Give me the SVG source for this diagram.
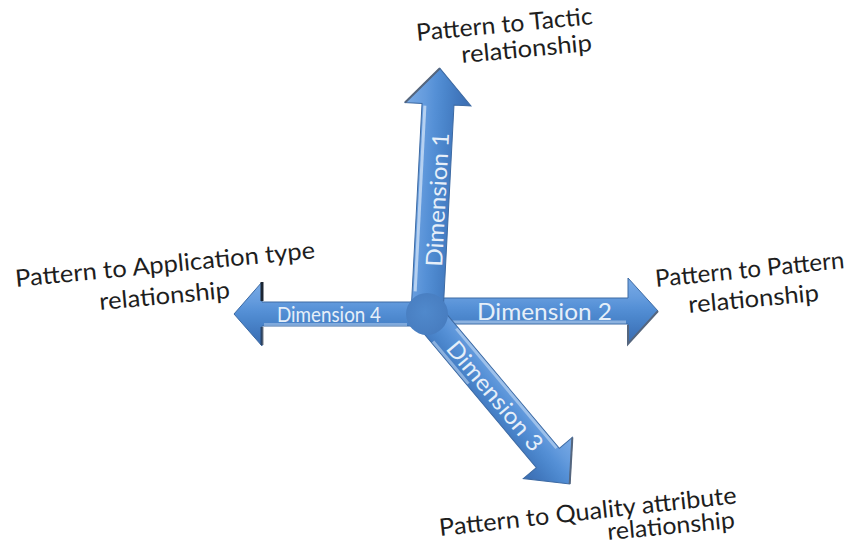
<svg xmlns="http://www.w3.org/2000/svg" width="854" height="546" viewBox="0 0 854 546">
  <defs>
    <linearGradient id="gA" x1="0" y1="0" x2="0" y2="1">
      <stop offset="0" stop-color="#7aabe6"/>
      <stop offset="0.3" stop-color="#649bdd"/>
      <stop offset="0.45" stop-color="#5590d6"/>
      <stop offset="0.6" stop-color="#4b86cc"/>
      <stop offset="0.78" stop-color="#4279bf"/>
      <stop offset="1" stop-color="#3b6cb0"/>
    </linearGradient>
    <linearGradient id="gB" x1="0" y1="1" x2="0" y2="0">
      <stop offset="0" stop-color="#7aabe6"/>
      <stop offset="0.3" stop-color="#649bdd"/>
      <stop offset="0.45" stop-color="#5590d6"/>
      <stop offset="0.6" stop-color="#4b86cc"/>
      <stop offset="0.78" stop-color="#4279bf"/>
      <stop offset="1" stop-color="#3b6cb0"/>
    </linearGradient>
    <radialGradient id="gC" cx="0.45" cy="0.45" r="0.6">
      <stop offset="0" stop-color="#5089cc"/>
      <stop offset="1" stop-color="#477cbf"/>
    </radialGradient>
  </defs>
  <style>
    .arrow { stroke: #3d6aa3; stroke-width: 1; stroke-linejoin: miter; }
    .hl { stroke: #c4daf4; stroke-width: 3; fill: none; }
    .edge { stroke: #55667e; stroke-width: 2; fill: none; }
    .dark { stroke: #1c2633; stroke-width: 3; fill: none; }
    .dim { font-family: Lato, "Open Sans", "Liberation Sans", sans-serif; fill: #e6eff9; }
    .lbl { font-family: Lato, "Open Sans", "Liberation Sans", sans-serif; font-size: 24px; fill: #1e1e1e; }
  </style>
  <rect width="854" height="546" fill="#ffffff"/>

  <g id="connectors">
    <g id="dim4-arrow" transform="translate(427,314) rotate(180)">
      <path class="arrow" fill="url(#gB)" d="M0,-12 L165,-12 L165,-32 L193,0 L165,32 L165,12 L0,12 Z"/>
      <line class="hl" x1="20" y1="-10.5" x2="163" y2="-10.5" stroke-opacity="0.45"/>
      <path class="dark" d="M165,13 L165,32"/>
      <path class="dark" d="M165,-13 L165,-31" stroke-opacity="0.6"/>
    </g>
    <g id="dim2-arrow" transform="translate(427,311)">
      <path class="arrow" fill="url(#gA)" d="M0,-13 L201,-13 L201,-33 L231,0 L201,33 L201,13 L0,13 Z"/>
      <line class="hl" x1="25" y1="11" x2="199" y2="11" stroke-opacity="0.55"/>
      <path class="edge" d="M231,0 L201,33 L201,14"/>
    </g>
    <g id="dim3-arrow" transform="translate(427,314) rotate(50)">
      <path class="arrow" fill="url(#gA)" d="M0,-15 L188,-15 L188,-32 L222,0 L188,32 L188,15 L0,15 Z"/>
      <line class="hl" x1="30" y1="-13" x2="186" y2="-13" stroke-opacity="0.6"/>
      <line class="hl" x1="25" y1="13" x2="80" y2="13" stroke-opacity="0.55"/>
      <path class="edge" d="M188,-32 L222,0"/>
    </g>
    <g id="dim1-arrow" transform="translate(427,314) rotate(-87)">
      <path class="arrow" fill="url(#gA)" d="M0,-16 L210,-16 L210,-33 L246,0 L210,33 L210,16 L0,16 Z"/>
      <line class="hl" x1="22" y1="-13" x2="208" y2="-13" stroke-opacity="0.85"/>
      <path class="edge" d="M210,-33 L246,0"/>
    </g>
  </g>

  <g id="center">
    <circle cx="427" cy="314" r="21" fill="url(#gC)"/>
  </g>

  <g id="dimension-labels">
    <text class="dim" x="442" y="267" font-size="23" textLength="134" lengthAdjust="spacingAndGlyphs" transform="rotate(-87 442 267)">Dimension 1</text>
    <text class="dim" x="477" y="320" font-size="23" textLength="135" lengthAdjust="spacingAndGlyphs">Dimension 2</text>
    <text class="dim" x="445" y="349" font-size="23" textLength="136" lengthAdjust="spacingAndGlyphs" transform="rotate(50 445 349)">Dimension 3</text>
    <text class="dim" x="277" y="322" font-size="22" textLength="104" lengthAdjust="spacingAndGlyphs">Dimension 4</text>
  </g>

  <g id="label-tactic">
    <text class="lbl" x="417" y="41" textLength="177" lengthAdjust="spacingAndGlyphs" transform="rotate(-5.5 417 41)">Pattern to Tactic</text>
    <text class="lbl" x="462" y="63" textLength="131" lengthAdjust="spacingAndGlyphs" transform="rotate(-5.3 462 63)">relationship</text>
  </g>
  <g id="label-pattern">
    <text class="lbl" x="656" y="287" textLength="190" lengthAdjust="spacingAndGlyphs" transform="rotate(-5.7 656 287)">Pattern to Pattern</text>
    <text class="lbl" x="689" y="313" textLength="131" lengthAdjust="spacingAndGlyphs" transform="rotate(-5.3 689 313)">relationship</text>
  </g>
  <g id="label-application">
    <text class="lbl" x="16" y="287" textLength="301" lengthAdjust="spacingAndGlyphs" transform="rotate(-5.5 16 287)">Pattern to Application type</text>
    <text class="lbl" x="100" y="310" textLength="131" lengthAdjust="spacingAndGlyphs" transform="rotate(-5.3 100 310)">relationship</text>
  </g>
  <g id="label-quality">
    <text class="lbl" x="440" y="536" textLength="299" lengthAdjust="spacingAndGlyphs" transform="rotate(-6.3 440 536)">Pattern to Quality attribute</text>
    <text class="lbl" x="608" y="540" textLength="128" lengthAdjust="spacingAndGlyphs" transform="rotate(-5.4 608 540)">relationship</text>
  </g>
</svg>
